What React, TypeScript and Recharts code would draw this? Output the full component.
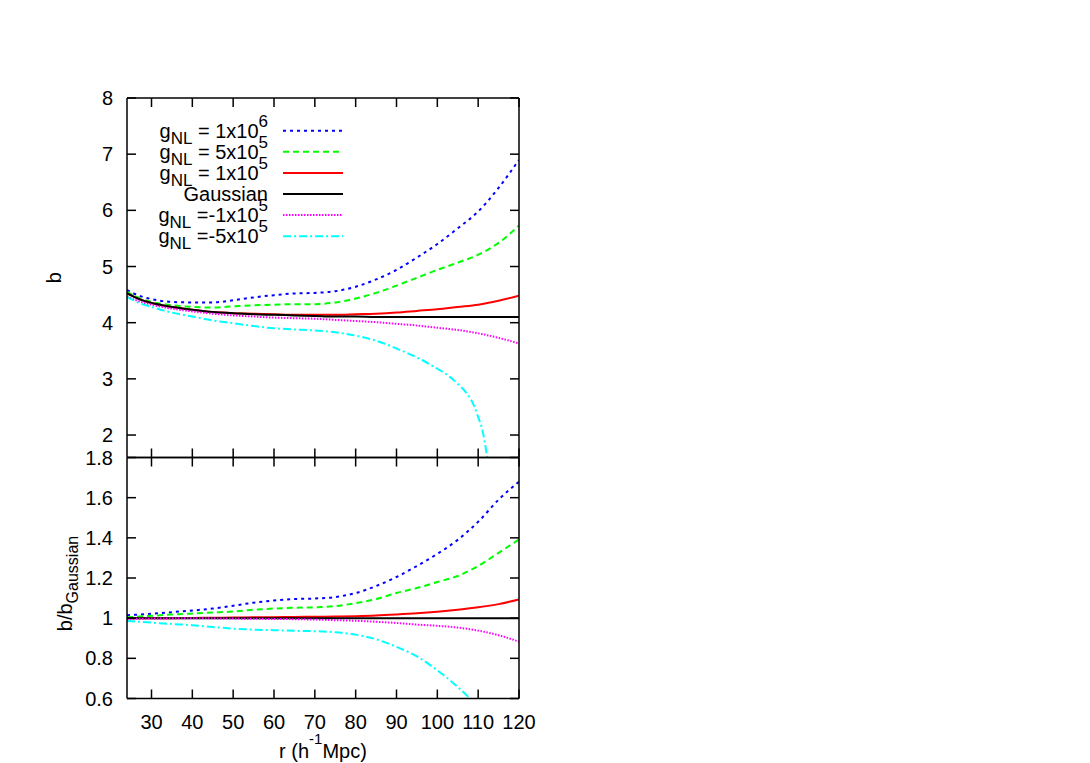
import React from 'react';
import { LineChart, Line, XAxis, YAxis } from 'recharts';

// ---------- data ----------
const R = [24, 27, 30, 35, 40, 45, 50, 55, 60, 65, 70, 75, 80, 85, 90, 95, 100, 105, 110, 115, 120];

// top panel: b
const B_P1E6 = [4.58, 4.48, 4.42, 4.37, 4.36, 4.36, 4.4, 4.45, 4.49, 4.52, 4.53, 4.56, 4.64, 4.77, 4.94, 5.16, 5.4, 5.68, 5.98, 6.4, 6.9];
const B_P5E5 = [4.55, 4.44, 4.37, 4.31, 4.28, 4.27, 4.29, 4.31, 4.32, 4.33, 4.33, 4.36, 4.43, 4.53, 4.66, 4.8, 4.94, 5.07, 5.21, 5.42, 5.73];
const B_P1E5 = [4.52, 4.42, 4.35, 4.28, 4.23, 4.19, 4.17, 4.16, 4.15, 4.14, 4.14, 4.14, 4.15, 4.16, 4.18, 4.21, 4.24, 4.28, 4.32, 4.39, 4.48];
const B_GAUSS = [4.52, 4.42, 4.35, 4.28, 4.23, 4.19, 4.17, 4.15, 4.14, 4.13, 4.12, 4.11, 4.11, 4.1, 4.1, 4.1, 4.1, 4.1, 4.1, 4.1, 4.1];
const B_M1E5 = [4.46, 4.38, 4.32, 4.25, 4.2, 4.16, 4.13, 4.11, 4.09, 4.08, 4.07, 4.05, 4.03, 4.01, 3.98, 3.95, 3.91, 3.87, 3.81, 3.73, 3.63];
const R_M5E5_TOP = [24, 27, 30, 35, 40, 45, 50, 55, 60, 65, 70, 75, 80, 85, 90, 95, 100, 103, 105, 107, 109, 110, 111, 112, 112.5];
const B_M5E5 = [4.46, 4.35, 4.28, 4.18, 4.11, 4.04, 3.99, 3.94, 3.9, 3.88, 3.86, 3.83, 3.77, 3.68, 3.54, 3.38, 3.18, 3.04, 2.91, 2.76, 2.52, 2.32, 2.1, 1.7, 1.45];

// bottom panel: b / b_Gaussian
const Q_P1E6 = [1.015, 1.018, 1.022, 1.03, 1.038, 1.048, 1.062, 1.077, 1.088, 1.095, 1.098, 1.105, 1.125, 1.16, 1.205, 1.26, 1.32, 1.39, 1.48, 1.59, 1.68];
const Q_P5E5 = [1.005, 1.008, 1.012, 1.018, 1.023, 1.028, 1.033, 1.042, 1.048, 1.052, 1.054, 1.06, 1.075, 1.095, 1.125, 1.15, 1.18, 1.21, 1.26, 1.325, 1.392];
const Q_P1E5 = [1.0, 1.0, 1.0, 1.0, 1.001, 1.002, 1.003, 1.004, 1.005, 1.006, 1.007, 1.008, 1.01, 1.013, 1.018, 1.024, 1.032, 1.042, 1.054, 1.07, 1.093];
const Q_GAUSS = [1, 1, 1, 1, 1, 1, 1, 1, 1, 1, 1, 1, 1, 1, 1, 1, 1, 1, 1, 1, 1];
const Q_M1E5 = [0.996, 0.997, 0.998, 0.999, 0.999, 0.999, 0.998, 0.997, 0.996, 0.995, 0.993, 0.99, 0.987, 0.982, 0.976, 0.968, 0.962, 0.953, 0.938, 0.915, 0.883];
const R_M5E5_BOT = [24, 27, 30, 35, 40, 45, 50, 55, 60, 65, 70, 75, 80, 85, 90, 95, 100, 103, 105, 108, 110];
const Q_M5E5 = [0.986, 0.982, 0.978, 0.971, 0.965, 0.956, 0.948, 0.943, 0.94, 0.937, 0.935, 0.93, 0.918, 0.895, 0.857, 0.81, 0.74, 0.693, 0.657, 0.6, 0.56];

const X_TICKS = [30, 40, 50, 60, 70, 80, 90, 100, 110, 120];
const TOP_Y_TICKS = [2, 3, 4, 5, 6, 7, 8];
const BOT_Y_TICKS = [0.6, 0.8, 1, 1.2, 1.4, 1.6, 1.8];

type Part = { t: string; s?: 'sub' | 'sup' };
const SERIES: { key: string; color: string; dash?: string; label: Part[] }[] = [
  { key: 'p1e6', color: '#0000ff', dash: '3 4', label: [{ t: 'g' }, { t: 'NL', s: 'sub' }, { t: ' = 1x10' }, { t: '6', s: 'sup' }] },
  { key: 'p5e5', color: '#00ff00', dash: '6 4', label: [{ t: 'g' }, { t: 'NL', s: 'sub' }, { t: ' = 5x10' }, { t: '5', s: 'sup' }] },
  { key: 'p1e5', color: '#ff0000', label: [{ t: 'g' }, { t: 'NL', s: 'sub' }, { t: ' = 1x10' }, { t: '5', s: 'sup' }] },
  { key: 'gauss', color: '#000000', label: [{ t: 'Gaussian' }] },
  { key: 'm1e5', color: '#ff00ff', dash: '1.5 1.5', label: [{ t: 'g' }, { t: 'NL', s: 'sub' }, { t: ' =-1x10' }, { t: '5', s: 'sup' }] },
  { key: 'm5e5', color: '#00ffff', dash: '8 3 2 3', label: [{ t: 'g' }, { t: 'NL', s: 'sub' }, { t: ' =-5x10' }, { t: '5', s: 'sup' }] },
];

const zip = (xs: number[], ys: number[]) => xs.map((r, i) => ({ r, v: ys[i] }));

const TOP_DATA: Record<string, { r: number; v: number }[]> = {
  p1e6: zip(R, B_P1E6),
  p5e5: zip(R, B_P5E5),
  p1e5: zip(R, B_P1E5),
  gauss: zip(R, B_GAUSS),
  m1e5: zip(R, B_M1E5),
  m5e5: zip(R_M5E5_TOP, B_M5E5),
};
const BOT_DATA: Record<string, { r: number; v: number }[]> = {
  p1e6: zip(R, Q_P1E6),
  p5e5: zip(R, Q_P5E5),
  p1e5: zip(R, Q_P1E5),
  gauss: zip(R, Q_GAUSS),
  m1e5: zip(R, Q_M1E5),
  m5e5: zip(R_M5E5_BOT, Q_M5E5),
};

// ---------- styling helpers ----------
const FONT = '"Liberation Sans", Arial, Helvetica, sans-serif';
const FS = 20;
const SUBFS = 17;
const TICK_LEN = 9;
const BORDER = { stroke: '#000', strokeWidth: 1.5 };

const renderParts = (parts: Part[], supShift = -11, subShift = 6, subFs = SUBFS) => {
  let cur = 0;
  return parts.map((p, i) => {
    const target = p.s === 'sub' ? subShift : p.s === 'sup' ? supShift : 0;
    const dy = target - cur;
    cur = target;
    return (
      <tspan key={i} dy={dy} fontSize={p.s ? subFs : FS}>
        {p.t}
      </tspan>
    );
  });
};

const LeftTick = (props: any) => {
  const { x, y, payload } = props;
  const ax = x + 14;
  return (
    <g>
      <line x1={ax} x2={ax + TICK_LEN} y1={y} y2={y} stroke="#000" strokeWidth={1.5} />
      <text x={x} y={y} dy={7} textAnchor="end" fontSize={FS} fontFamily={FONT} fill="#000">
        {String(payload.value)}
      </text>
    </g>
  );
};
const RightTick = (props: any) => {
  const { x, y } = props;
  return <line x1={x} x2={x - TICK_LEN} y1={y} y2={y} stroke="#000" strokeWidth={1.5} />;
};
const TopTick = (props: any) => {
  const { x, y } = props;
  return <line x1={x} x2={x} y1={y} y2={y + TICK_LEN} stroke="#000" strokeWidth={1.5} />;
};
const BottomTickPlain = (props: any) => {
  const { x, y } = props;
  return <line x1={x} x2={x} y1={y} y2={y - TICK_LEN} stroke="#000" strokeWidth={1.5} />;
};
const BottomTickLabel = (props: any) => {
  const { x, y, payload } = props;
  return (
    <g>
      <line x1={x} x2={x} y1={y} y2={y - TICK_LEN} stroke="#000" strokeWidth={1.5} />
      <text x={x} y={y + 30} textAnchor="middle" fontSize={FS} fontFamily={FONT} fill="#000">
        {String(payload.value)}
      </text>
    </g>
  );
};

const TopYLabel = (props: any) => {
  const vb = props.viewBox || { x: 67, y: 98, width: 60, height: 359.5 };
  const cx = vb.x + vb.width - 66;
  const cy = vb.y + vb.height / 2;
  return (
    <text x={cx} y={cy} transform={`rotate(-90, ${cx}, ${cy})`} textAnchor="middle" fontSize={FS} fontFamily={FONT} fill="#000">
      b
    </text>
  );
};
const BotYLabel = (props: any) => {
  const vb = props.viewBox || { x: 67, y: 17.5, width: 60, height: 241 };
  const cx = vb.x + vb.width - 55.5;
  const cy = vb.y + vb.height / 2 + 5.5;
  return (
    <text x={cx} y={cy} transform={`rotate(-90, ${cx}, ${cy})`} textAnchor="middle" fontSize={FS} fontFamily={FONT} fill="#000">
      {renderParts([{ t: 'b/b' }, { t: 'Gaussian', s: 'sub' }], -11, 6, 16)}
    </text>
  );
};
const XTitle = (props: any) => {
  const vb = props.viewBox || { x: 127, y: 258.5, width: 392, height: 40 };
  const cx = vb.x + vb.width / 2;
  const cy = vb.y + 59.5;
  return (
    <text x={cx} y={cy} textAnchor="middle" fontSize={FS} fontFamily={FONT} fill="#000">
      {renderParts([{ t: 'r (h' }, { t: '-1', s: 'sup' }, { t: 'Mpc)' }], -14, 6, 15)}
    </text>
  );
};

const lines = (data: Record<string, { r: number; v: number }[]>) =>
  SERIES.map((s) => (
    <Line
      key={s.key}
      data={data[s.key]}
      dataKey="v"
      type="monotone"
      stroke={s.color}
      strokeWidth={2}
      strokeDasharray={s.dash}
      dot={false}
      activeDot={false}
      isAnimationActive={false}
      legendType="none"
    />
  ));

const Legend = () => {
  const y0 = 130.7;
  const dy = 21.1;
  return (
    <svg width={400} height={260} style={{ position: 'absolute', left: 0, top: 0 }}>
      {SERIES.map((s, i) => {
        const y = y0 + i * dy;
        return (
          <g key={s.key}>
            <text x={268} y={y + 7} textAnchor="end" fontSize={FS} fontFamily={FONT} fill="#000">
              {renderParts(s.label)}
            </text>
            <line x1={283} x2={343} y1={y} y2={y} stroke={s.color} strokeWidth={2} strokeDasharray={s.dash} />
          </g>
        );
      })}
    </svg>
  );
};

export default function App() {
  return (
    <div style={{ position: 'absolute', left: 0, top: 0, width: 1090, height: 763, background: '#fff', overflow: 'hidden' }}>
      <div style={{ position: 'absolute', left: 0, top: 0 }}>
        <LineChart width={560} height={470} margin={{ top: 88, right: 31, bottom: 2.5, left: 67 }}>
          <XAxis xAxisId={0} dataKey="r" type="number" domain={[24, 120]} allowDataOverflow ticks={X_TICKS} interval={0}
            orientation="bottom" height={10} tickSize={0} tickMargin={0} tickLine={false} axisLine={BORDER} tick={BottomTickPlain} />
          <XAxis xAxisId="top" dataKey="r" type="number" domain={[24, 120]} allowDataOverflow ticks={X_TICKS} interval={0}
            orientation="top" height={10} tickSize={0} tickMargin={0} tickLine={false} axisLine={BORDER} tick={TopTick} />
          <YAxis yAxisId={0} type="number" domain={[1.6, 8]} allowDataOverflow ticks={TOP_Y_TICKS} interval={0}
            width={60} tickSize={0} tickMargin={14} tickLine={false} axisLine={BORDER} tick={LeftTick} label={TopYLabel} />
          <YAxis yAxisId="right" orientation="right" type="number" domain={[1.6, 8]} allowDataOverflow ticks={TOP_Y_TICKS} interval={0}
            width={10} tickSize={0} tickMargin={0} tickLine={false} axisLine={BORDER} tick={RightTick} />
          {lines(TOP_DATA)}
        </LineChart>
      </div>
      <div style={{ position: 'absolute', left: 0, top: 440 }}>
        <LineChart width={560} height={323} margin={{ top: 7.5, right: 31, bottom: 24.5, left: 67 }}>
          <XAxis xAxisId={0} dataKey="r" type="number" domain={[24, 120]} allowDataOverflow ticks={X_TICKS} interval={0}
            orientation="bottom" height={40} tickSize={0} tickMargin={0} tickLine={false} axisLine={BORDER} tick={BottomTickLabel} label={XTitle} />
          <XAxis xAxisId="top" dataKey="r" type="number" domain={[24, 120]} allowDataOverflow ticks={X_TICKS} interval={0}
            orientation="top" height={10} tickSize={0} tickMargin={0} tickLine={false} axisLine={BORDER} tick={TopTick} />
          <YAxis yAxisId={0} type="number" domain={[0.6, 1.8]} allowDataOverflow ticks={BOT_Y_TICKS} interval={0}
            width={60} tickSize={0} tickMargin={14} tickLine={false} axisLine={BORDER} tick={LeftTick} label={BotYLabel} />
          <YAxis yAxisId="right" orientation="right" type="number" domain={[0.6, 1.8]} allowDataOverflow ticks={BOT_Y_TICKS} interval={0}
            width={10} tickSize={0} tickMargin={0} tickLine={false} axisLine={BORDER} tick={RightTick} />
          {lines(BOT_DATA)}
        </LineChart>
      </div>
      <Legend />
    </div>
  );
}
